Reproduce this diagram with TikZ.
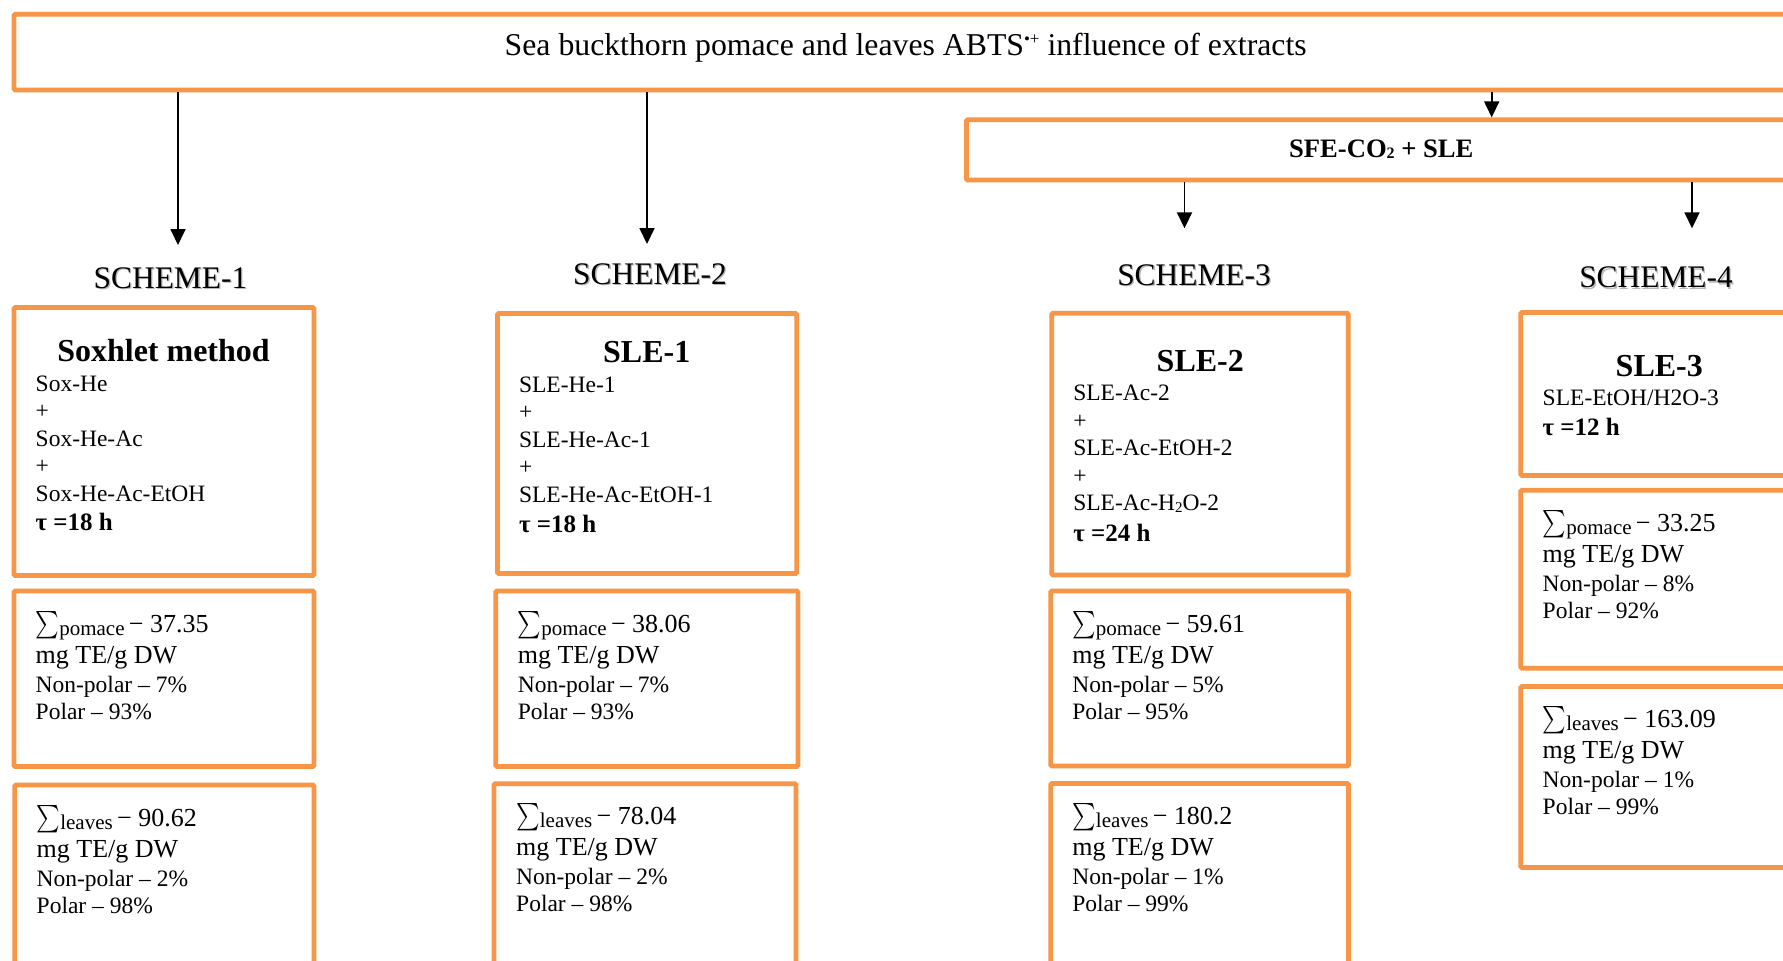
\documentclass[tikz,border=0pt]{standalone}
\usepackage{amsmath}
\usepackage{graphicx}
\usepackage{fontspec}
\setmainfont{Liberation Serif}
\usetikzlibrary{arrows.meta}
\definecolor{orng}{RGB}{247,150,70}
\newcommand\fsz[1]{\fontsize{#1}{#1}\selectfont}
\newcommand\subtwo[1]{\lower1.5pt\hbox{\fsz{#1}2}}
\newcommand\bigsum{\scalebox{0.9}[1.1]{$\sum$}}
\tikzset{
  obox/.style={draw=orng, line width=4.8pt, rounded corners=1.2pt, inner sep=0pt, rectangle},
  arr/.style={line width=1.8pt, -{Triangle[width=15pt,length=16pt]}},
  txt/.style={inner sep=0pt, outer sep=0pt, anchor=base west},
  sch/.style={inner sep=0pt, outer sep=0pt, anchor=base, font=\fsz{31.4}},
  schsh/.style={sch, text=black!28},
  ttl/.style={inner sep=0pt, outer sep=0pt, anchor=base, font=\fsz{32}\bfseries},
  lin/.style={txt, font=\fsz{23.5}},
  tau/.style={txt, font=\fsz{25}\bfseries},
}
\newcommand\stack[4]{%
  \foreach \t [count=\i from 0] in {#4} {
    \node[lin] (#1-\i) at ({#2},{#3+\i*27.5}) {\t};
  }%
}
\newcommand\stat[7]{%
  \node[txt, font=\fsz{26}] (#1-1) at ({#2},{#3+41}) {\bigsum\lower3pt\hbox{\fsz{21}#4}\,− #5};
  \node[txt, font=\fsz{26}] (#1-2) at ({#2},{#3+72}) {mg TE/g DW};
  \node[lin] (#1-3) at ({#2},{#3+101}) {Non-polar – #6\%};
  \node[lin] (#1-4) at ({#2},{#3+128}) {Polar – #7\%};
}
\begin{document}
\begin{tikzpicture}[x=1pt,y=-1pt]
\useasboundingbox (0,0) rectangle (1783,961);
\clip (0,0) rectangle (1783,961);
\fill[white] (0,0) rectangle (1783,961);

% boxes
\node[obox, minimum width=1786pt, minimum height=75.7pt] (top) at (907,52.15) {};
\node[obox, minimum width=833.6pt, minimum height=60.2pt] (sfe) at (1383.2,149.9) {};

\node[obox, minimum width=300pt, minimum height=268pt] (b1a) at (164,441.5) {};
\node[obox, minimum width=300pt, minimum height=175.5pt] (b1b) at (164,678.75) {};
\node[obox, minimum width=299.2pt, minimum height=215pt] (b1c) at (164.4,892.5) {};

\node[obox, minimum width=299.3pt, minimum height=260pt] (b2a) at (647.15,443.5) {};
\node[obox, minimum width=302.2pt, minimum height=175.5pt] (b2b) at (646.9,678.75) {};
\node[obox, minimum width=302pt, minimum height=216pt] (b2c) at (645,891.75) {};

\node[obox, minimum width=296.6pt, minimum height=261.7pt] (b3a) at (1200,444.15) {};
\node[obox, minimum width=297.7pt, minimum height=175pt] (b3b) at (1199.65,678.5) {};
\node[obox, minimum width=297.7pt, minimum height=216.5pt] (b3c) at (1199.65,891.75) {};

\node[obox, minimum width=279.2pt, minimum height=163pt] (b4a) at (1660.4,394) {};
\node[obox, minimum width=279.2pt, minimum height=178.1pt] (b4b) at (1660.4,579.25) {};
\node[obox, minimum width=279.2pt, minimum height=181pt] (b4c) at (1660.4,777) {};

% title texts
\node[inner sep=0pt, anchor=base] (title) at (905.7,55.5) {\fsz{31.75}Sea buckthorn pomace and leaves ABTS\raisebox{11pt}{\fsz{17}•+} influence of extracts};
\node[inner sep=0pt, anchor=base, font=\fsz{26.6}\bfseries] (sfetxt) at (1381.3,157.3) {SFE-CO\subtwo{16} + SLE};

% scheme labels
\node[schsh] (s1s) at (171.8,289.3) {SCHEME-1};
\node[sch] (s1) at (170.5,288) {SCHEME-1};
\node[schsh] (s2s) at (651.3,285.8) {SCHEME-2};
\node[sch] (s2) at (650,284.5) {SCHEME-2};
\node[schsh] (s3s) at (1195.3,286.3) {SCHEME-3};
\node[sch] (s3) at (1194,285) {SCHEME-3};
\node[schsh] (s4s) at (1657.3,289) {SCHEME-4};
\node[sch] (s4) at (1656,287.7) {SCHEME-4};

% arrows
\coordinate (x1) at (178,0);
\coordinate (x2) at (647,0);
\coordinate (x3) at (1491.7,0);
\coordinate (x4) at (1184.5,0);
\coordinate (x5) at (1692,0);
\coordinate (e1) at (178,245);
\coordinate (e2) at (647,244);
\coordinate (e4) at (1184.5,228.3);
\coordinate (e5) at (1692,228.3);
\draw[arr] (top.south -| x1) -- (e1);
\draw[arr] (top.south -| x2) -- (e2);
\draw[arr] (top.south -| x3) -- (sfe.north -| x3);
\draw[arr] (sfe.south -| x4) -- (e4);
\draw[arr] (sfe.south -| x5) -- (e5);

% method boxes
\node[ttl] (t1) at (163.5,361) {Soxhlet method};
\stack{l1}{35.7}{391}{Sox-He,+,Sox-He-Ac,+,Sox-He-Ac-EtOH}
\node[tau] (tau1) at (35.7,530) {τ =18 h};

\node[ttl] (t2) at (646.7,362.7) {SLE-1};
\stack{l2}{519}{392.3}{SLE-He-1,+,SLE-He-Ac-1,+,SLE-He-Ac-EtOH-1}
\node[tau] (tau2) at (519,532.3) {τ =18 h};

\node[ttl] (t3) at (1200.3,371.7) {SLE-2};
\stack{l3}{1073.3}{400.7}{SLE-Ac-2,+,SLE-Ac-EtOH-2,+,{SLE-Ac-H\subtwo{15}O-2}}
\node[tau] (tau3) at (1073.3,541.7) {τ =24 h};

\node[ttl] (t4) at (1659.3,376) {SLE-3};
\stack{l4}{1542.7}{405}{SLE-EtOH/H2O-3}
\node[tau] (tau4) at (1542.7,435) {τ =12 h};

% stats
\stat{p1}{35.7}{591}{pomace}{37.35}{7}{93}
\stat{f1}{36.7}{785}{leaves}{90.62}{2}{98}
\stat{p2}{517.8}{591}{pomace}{38.06}{7}{93}
\stat{f2}{516.2}{783.5}{leaves}{78.04}{2}{98}
\stat{p3}{1072.3}{591}{pomace}{59.61}{5}{95}
\stat{f3}{1072.3}{783.5}{leaves}{180.2}{1}{99}
\stat{p4}{1542.7}{490.2}{pomace}{33.25}{8}{92}
\stat{f4}{1542.7}{686.5}{leaves}{163.09}{1}{99}
\end{tikzpicture}
\end{document}
